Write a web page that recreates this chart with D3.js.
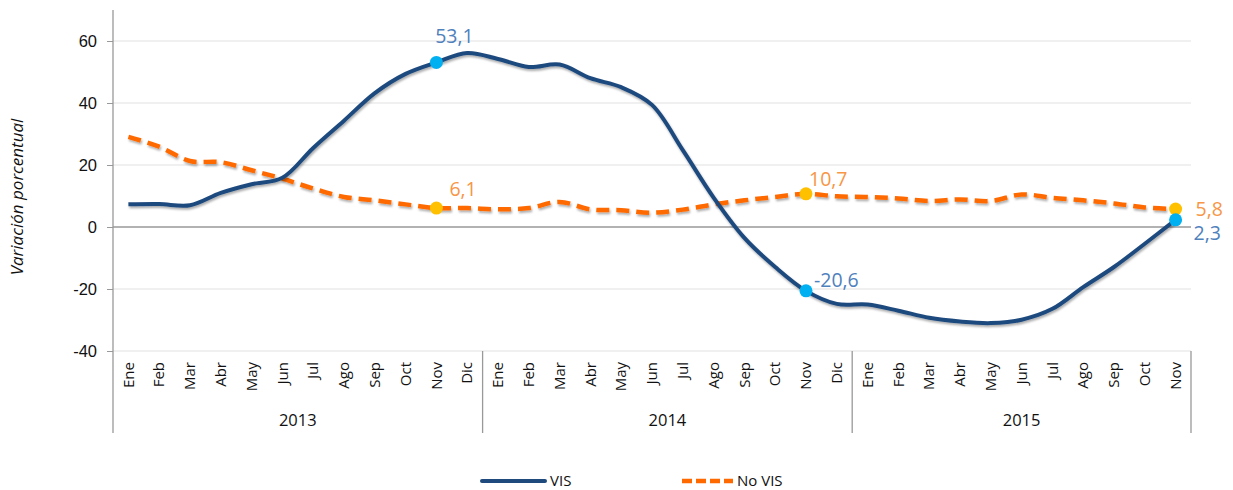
<!DOCTYPE html>
<html>
<head>
<meta charset="utf-8">
<script src="https://cdn.jsdelivr.net/npm/d3@7"></script>
<style>
  body { margin: 0; background: #fff; }
  svg { display: block; font-family: 'Open Sans', sans-serif; }
</style>
</head>
<body>
<svg id="chart" width="1233" height="490"></svg>
<script>
const months = ['Ene','Feb','Mar','Abr','May','Jun','Jul','Ago','Sep','Oct','Nov','Dic',
  'Ene','Feb','Mar','Abr','May','Jun','Jul','Ago','Sep','Oct','Nov','Dic',
  'Ene','Feb','Mar','Abr','May','Jun','Jul','Ago','Sep','Oct','Nov'];
const years = ['2013', '2014', '2015'];
const yearCounts = [12, 12, 11];

const vis = [7.3, 7.4, 7.0, 11.0, 13.8, 15.9, 25.5, 34.3, 43.2, 49.4, 53.1, 56.1,
  54.2, 51.6, 52.4, 48.0, 45.1, 39.4, 24.8, 9.5, -3.5, -12.9, -20.6, -24.8,
  -25.0, -27.0, -29.3, -30.5, -31.0, -29.9, -26.4, -19.4, -12.9, -5.4, 2.3];
const noVis = [29.1, 25.9, 21.3, 20.9, 18.3, 15.6, 12.4, 9.7, 8.6, 7.3, 6.1, 6.1,
  5.7, 6.1, 8.1, 5.7, 5.4, 4.6, 5.6, 7.3, 8.6, 9.7, 10.7, 9.9,
  9.7, 9.2, 8.4, 8.9, 8.4, 10.5, 9.4, 8.6, 7.6, 6.3, 5.8];

const markIdx = [10, 22, 34];
const yTicks = [-40, -20, 0, 20, 40, 60];

const svg = d3.select('#chart');
const plotLeft = 113, plotRight = 1191, plotTop = 10, plotBottom = 351;

const x = d3.scaleBand().domain(d3.range(months.length)).range([plotLeft, plotRight]);
const cx = i => x(i) + x.bandwidth() / 2;
const y = d3.scaleLinear().domain([-40, 70]).range([plotBottom, plotTop]);

// excel style: comma decimals, plain hyphen for negatives
const fmt = v => d3.format('.1f')(v).replace('.', ',').replace('\u2212', '-');

// shadow like the office charts
const defs = svg.append('defs');
defs.append('filter').attr('id', 'shadow')
  .attr('x', '-5%').attr('y', '-10%').attr('width', '110%').attr('height', '130%')
  .append('feDropShadow')
  .attr('dx', 1).attr('dy', 2).attr('stdDeviation', 1.3)
  .attr('flood-color', '#000').attr('flood-opacity', 0.32);

// gridlines
svg.append('g')
  .selectAll('line')
  .data(yTicks.filter(d => d !== 0))
  .join('line')
  .attr('x1', plotLeft).attr('x2', plotRight)
  .attr('y1', d => y(d)).attr('y2', d => y(d))
  .attr('stroke', '#ebebeb').attr('stroke-width', 1.3);

// y axis
const yAxis = svg.append('g')
  .attr('transform', `translate(${plotLeft},0)`)
  .call(d3.axisLeft(y).tickValues(yTicks).tickSize(6).tickPadding(10).tickFormat(d => d));
yAxis.select('.domain').remove();
yAxis.selectAll('line').attr('stroke', '#999');
yAxis.selectAll('text').attr('font-size', 16.5).attr('fill', '#111');

svg.append('line')
  .attr('x1', plotLeft).attr('x2', plotLeft).attr('y1', plotTop).attr('y2', 433)
  .attr('stroke', '#999').attr('stroke-width', 1.3);

// zero line
svg.append('line')
  .attr('x1', plotLeft).attr('x2', plotRight).attr('y1', y(0)).attr('y2', y(0))
  .attr('stroke', '#999').attr('stroke-width', 1.6);

// y title
svg.append('text')
  .attr('transform', `translate(23,197) rotate(-90)`)
  .attr('text-anchor', 'middle')
  .attr('font-size', 17)
  .attr('font-style', 'italic')
  .attr('fill', '#111')
  .text('Variación porcentual');

// month labels
svg.append('g')
  .selectAll('text')
  .data(months)
  .join('text')
  .attr('transform', (d, i) => `translate(${cx(i)},362) rotate(-90)`)
  .attr('text-anchor', 'end')
  .attr('dy', '0.35em')
  .attr('font-size', 15)
  .attr('fill', '#111')
  .text(d => d);

// year groups
const yearStarts = yearCounts.map((n, k) => d3.sum(yearCounts.slice(0, k)));
const g = svg.append('g');
yearStarts.forEach((s, k) => {
  const x0 = x(s), x1 = x(s + yearCounts[k] - 1) + x.bandwidth();
  g.append('text')
    .attr('x', (x0 + x1) / 2).attr('y', 426)
    .attr('text-anchor', 'middle')
    .attr('font-size', 16.5)
    .attr('fill', '#111')
    .text(years[k]);
  g.append('line')
    .attr('x1', x1).attr('x2', x1).attr('y1', plotBottom).attr('y2', 433)
    .attr('stroke', '#999').attr('stroke-width', 1.3);
});

// series
const line = d3.line()
  .x((d, i) => cx(i))
  .y(d => y(d))
  .curve(d3.curveCatmullRom.alpha(0.5));

svg.append('path')
  .datum(noVis)
  .attr('d', line)
  .attr('fill', 'none')
  .attr('stroke', '#ff6a00')
  .attr('stroke-width', 4.5)
  .attr('stroke-dasharray', '13,7')
  .attr('filter', 'url(#shadow)');

svg.append('path')
  .datum(vis)
  .attr('d', line)
  .attr('fill', 'none')
  .attr('stroke', '#1f4a7e')
  .attr('stroke-width', 4)
  .attr('filter', 'url(#shadow)');

// markers
svg.append('g')
  .selectAll('circle')
  .data(markIdx)
  .join('circle')
  .attr('cx', i => cx(i)).attr('cy', i => y(noVis[i]))
  .attr('r', 6.5)
  .attr('fill', '#ffc000');

svg.append('g')
  .selectAll('circle')
  .data(markIdx)
  .join('circle')
  .attr('cx', i => cx(i)).attr('cy', i => y(vis[i]))
  .attr('r', 6.5)
  .attr('fill', '#00b0f0');

// data labels
const visOffsets = [[18, -19, 'middle'], [8, -4, 'start'], [18, 20, 'start']];
const noVisOffsets = [[13, -12, 'start'], [3, -8, 'start'], [20, 7, 'start']];

svg.append('g')
  .selectAll('text')
  .data(markIdx)
  .join('text')
  .attr('x', (i, k) => cx(i) + visOffsets[k][0])
  .attr('y', (i, k) => y(vis[i]) + visOffsets[k][1])
  .attr('text-anchor', (i, k) => visOffsets[k][2])
  .attr('font-size', 19.5)
  .attr('fill', '#4f81bd')
  .text(i => fmt(vis[i]));

svg.append('g')
  .selectAll('text')
  .data(markIdx)
  .join('text')
  .attr('x', (i, k) => cx(i) + noVisOffsets[k][0])
  .attr('y', (i, k) => y(noVis[i]) + noVisOffsets[k][1])
  .attr('text-anchor', (i, k) => noVisOffsets[k][2])
  .attr('font-size', 19.5)
  .attr('fill', '#f79646')
  .text(i => fmt(noVis[i]));

// legend
const legend = svg.append('g');
legend.append('line')
  .attr('x1', 482).attr('x2', 545).attr('y1', 481).attr('y2', 481)
  .attr('stroke', '#1f4a7e').attr('stroke-width', 4).attr('stroke-linecap', 'round');
legend.append('text')
  .attr('x', 550).attr('y', 486).attr('font-size', 15).attr('fill', '#111').text('VIS');
legend.append('line')
  .attr('x1', 682).attr('x2', 733).attr('y1', 481).attr('y2', 481)
  .attr('stroke', '#ff6a00').attr('stroke-width', 4.5).attr('stroke-dasharray', '10,4');
legend.append('text')
  .attr('x', 737).attr('y', 486).attr('font-size', 15).attr('fill', '#111').text('No VIS');
</script>
</body>
</html>
